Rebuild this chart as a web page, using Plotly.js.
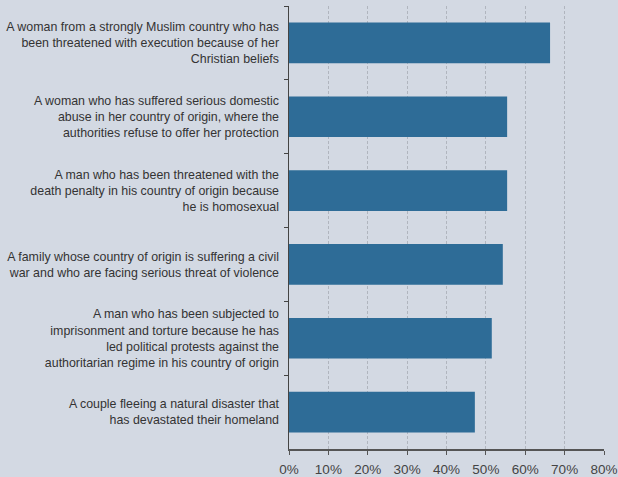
<!DOCTYPE html>
<html>
<head>
<meta charset="utf-8">
<script src="https://cdn.plot.ly/plotly-3.0.1.min.js"></script>
<style>
html,body{margin:0;padding:0;background:#d3d9e3;}
#chart{width:618px;height:477px;}
</style>
</head>
<body>
<div id="chart"></div>
<script>
const categories = [
  "A woman from a strongly Muslim country who has<br>been threatened with execution because of her<br>Christian beliefs",
  "A woman who has suffered serious domestic<br>abuse in her country of origin, where the<br>authorities refuse to offer her protection",
  "A man who has been threatened with the<br>death penalty in his country of origin because<br>he is homosexual",
  "A family whose country of origin is suffering a civil<br>war and who are facing serious threat of violence",
  "A man who has been subjected to<br>imprisonment and torture because he has<br>led political protests against the<br>authoritarian regime in his country of origin",
  "A couple fleeing a natural disaster that<br>has devastated their homeland"
];
const values = [0.663, 0.554, 0.554, 0.543, 0.515, 0.472];
const tickVals = [0, 0.1, 0.2, 0.3, 0.4, 0.5, 0.6, 0.7, 0.8];
const tickText = ["0%", "10%", "20%", "30%", "40%", "50%", "60%", "70%", "80%"];

const trace = {
  type: "bar",
  orientation: "h",
  y: categories,
  x: values,
  width: 0.55,
  marker: {color: "#2e6c97", line: {width: 0}},
  hoverinfo: "x+y"
};

const layout = {
  width: 618,
  height: 477,
  paper_bgcolor: "#d3d9e3",
  plot_bgcolor: "#d3d9e3",
  margin: {l: 289, r: 14, t: 6, b: 28, pad: 0},
  showlegend: false,
  font: {family: "Liberation Sans, Arial, sans-serif", color: "#333333", size: 12.4},
  xaxis: {
    range: [0, 0.8],
    tickvals: tickVals,
    ticktext: tickText,
    showgrid: true,
    gridcolor: "#b0b5be",
    griddash: "3px,2px",
    gridwidth: 1,
    zeroline: false,
    showline: true,
    linecolor: "#555555",
    linewidth: 1.5,
    ticks: "outside",
    ticklen: 4,
    tickcolor: "#555555",
    ticklabelstandoff: 3,
    tickfont: {size: 13.5, color: "#444444"},
    fixedrange: true
  },
  yaxis: {
    type: "category",
    autorange: "reversed",
    showgrid: false,
    zeroline: false,
    showline: true,
    linecolor: "#444444",
    linewidth: 1.5,
    ticks: "outside",
    tickson: "boundaries",
    ticklen: 4,
    tickcolor: "#444444",
    ticklabelstandoff: 6,
    tickfont: {size: 12.4, color: "#333333"},
    fixedrange: true
  }
};

Plotly.newPlot("chart", [trace], layout, {displayModeBar: false, staticPlot: true});
</script>
</body>
</html>
